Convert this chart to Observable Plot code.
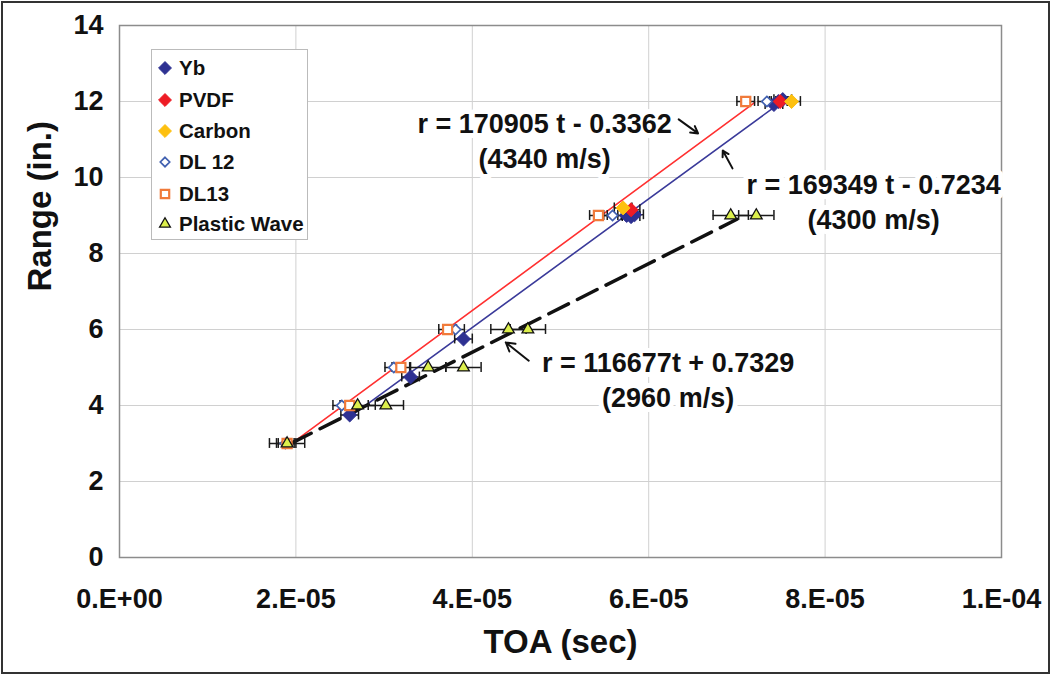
<!DOCTYPE html>
<html>
<head>
<meta charset="utf-8">
<script src="https://cdn.jsdelivr.net/npm/d3@7"></script>
<script src="https://cdn.jsdelivr.net/npm/@observablehq/plot@0.6"></script>
<style>
  html, body { margin: 0; padding: 0; background: #fff; }
  #wrap { position: relative; width: 1051px; height: 675px; overflow: hidden; font-family: "Liberation Sans", Arial, sans-serif; }
  #border { position: absolute; left: 1px; top: 1px; width: 1045px; height: 669px; border: 2px solid #333; pointer-events: none; }
  #legend { position: absolute; left: 151px; top: 49px; width: 157px; height: 191px; border: 1px solid #bbb; background: #fff; box-sizing: border-box; }
  .item { position: absolute; left: 0; height: 24px; display: flex; align-items: center; font-weight: bold; font-size: 20.5px; color: #111; }
  .item svg { margin-left: 4px; margin-right: 5px; }
</style>
</head>
<body>
<div id="wrap">
  <div id="chart"></div>
  <div id="legend"></div>
  <div id="border"></div>
</div>
<script>
// ---- Data ----
const seriesNames = ["Yb", "PVDF", "Carbon", "DL 12", "DL13", "Plastic Wave"];

const ybT = [2.61e-5, 3.30e-5, 3.90e-5, 5.75e-5, 5.80e-5, 5.84e-5, 7.42e-5, 7.47e-5, 7.52e-5];
const ybR = [3.75, 4.75, 5.75, 9.0, 8.97, 9.02, 11.92, 12.0, 12.05];

const pvdfT = [5.80e-5, 7.49e-5];
const pvdfR = [9.15, 12.0];

const carbonT = [5.71e-5, 7.62e-5];
const carbonR = [9.2, 12.0];

const dl12T = [1.88e-5, 2.52e-5, 3.11e-5, 3.81e-5, 5.59e-5, 7.34e-5];
const dl12R = [3.0, 4.0, 5.0, 6.0, 9.0, 12.0];

const dl13T = [1.90e-5, 2.61e-5, 3.19e-5, 3.72e-5, 5.43e-5, 7.10e-5];
const dl13R = [3.0, 4.0, 5.0, 6.0, 9.0, 12.0];

const plasticT = [1.90e-5, 2.70e-5, 3.02e-5, 3.50e-5, 3.90e-5, 4.41e-5, 4.63e-5, 6.93e-5, 7.22e-5];
const plasticR = [3.0, 4.0, 4.0, 5.0, 5.0, 6.0, 6.0, 9.0, 9.0];

// half-width of horizontal error bars (sec), per series
const errHalf = [1.0e-6, 1.0e-6, 1.0e-6, 1.0e-6, 1.0e-6, 2.0e-6];

// fitted lines (endpoints)
const redFitT = [1.90e-5, 7.20e-5];
const redFitR = [2.91, 11.97];
const blueFitT = [2.60e-5, 7.50e-5];
const blueFitR = [3.68, 11.98];
const plasticFitT = [1.95e-5, 7.00e-5];
const plasticFitR = [3.01, 8.90];

// annotation labels
const noteText = ["r = 170905 t - 0.3362\n(4340 m/s)", "r = 169349 t - 0.7234\n(4300 m/s)", "r = 116677t + 0.7329\n(2960 m/s)"];
const noteT = [4.82e-5, 8.55e-5, 6.22e-5];
const noteR = [11.0, 9.39, 4.71];

// arrows
const arrowT1 = [6.34e-5, 6.95e-5, 4.64e-5];
const arrowR1 = [11.53, 10.24, 5.18];
const arrowT2 = [6.56e-5, 6.84e-5, 4.38e-5];
const arrowR2 = [11.16, 10.71, 5.66];

// ticks
const xTicks = [0, 2e-5, 4e-5, 6e-5, 8e-5, 1e-4];
const xTickLabels = ["0.E+00", "2.E-05", "4.E-05", "6.E-05", "8.E-05", "1.E-04"];
const yTicks = [0, 2, 4, 6, 8, 10, 12, 14];

// ---- Build tables ----
const toRows = (T, R, e) => T.map((t, i) => ({t, r: R[i], e}));
const yb = toRows(ybT, ybR, errHalf[0]);
const pvdf = toRows(pvdfT, pvdfR, errHalf[1]);
const carbon = toRows(carbonT, carbonR, errHalf[2]);
const dl12 = toRows(dl12T, dl12R, errHalf[3]);
const dl13 = toRows(dl13T, dl13R, errHalf[4]);
const plastic = toRows(plasticT, plasticR, errHalf[5]);
const notes = noteText.map((s, i) => ({s, t: noteT[i], r: noteR[i]}));
const arrows = arrowT1.map((t, i) => ({t1: t, r1: arrowR1[i], t2: arrowT2[i], r2: arrowR2[i]}));
const fitRows = (T, R) => T.map((t, i) => ({t, r: R[i]}));

const styles = {
  "Yb": {symbol: "diamond2", fill: "#2e3192", stroke: "#2e3192", r: 6.3, strokeWidth: 1},
  "PVDF": {symbol: "diamond2", fill: "#ee1c25", stroke: "#ee1c25", r: 6.3, strokeWidth: 1},
  "Carbon": {symbol: "diamond2", fill: "#fdc010", stroke: "#fdc010", r: 6.3, strokeWidth: 1},
  "DL 12": {symbol: "diamond2", fill: "#fff", stroke: "#4060b0", r: 4.6, strokeWidth: 1.7},
  "DL13": {symbol: "square2", fill: "#fff", stroke: "#f07a3a", r: 5.8, strokeWidth: 2.2},
  "Plastic Wave": {symbol: "triangle2", fill: "#dcef4c", stroke: "#111", r: 5.6, strokeWidth: 1.3}
};

function errorMarks(rows) {
  const cap = 0.13;
  return [
    Plot.ruleY(rows, {y: "r", x1: d => d.t - d.e, x2: d => d.t + d.e, stroke: "#1a1a1a", strokeWidth: 1.5}),
    Plot.ruleX(rows, {x: d => d.t - d.e, y1: d => d.r - cap, y2: d => d.r + cap, stroke: "#1a1a1a", strokeWidth: 1.5}),
    Plot.ruleX(rows, {x: d => d.t + d.e, y1: d => d.r - cap, y2: d => d.r + cap, stroke: "#1a1a1a", strokeWidth: 1.5})
  ];
}
const dotMark = (rows, name) => Plot.dot(rows, {x: "t", y: "r", ...styles[name]});

const font = "Liberation Sans, Arial, sans-serif";

const chart = Plot.plot({
  width: 1051,
  height: 675,
  marginLeft: 119,
  marginRight: 50,
  marginTop: 25,
  marginBottom: 118,
  style: {fontFamily: font, background: "#fff", overflow: "visible"},
  x: {domain: [0, 1e-4]},
  y: {domain: [0, 14]},
  marks: [
    Plot.gridX(xTicks, {stroke: "#d0d0d0", strokeOpacity: 1, strokeWidth: 1}),
    Plot.gridY(yTicks, {stroke: "#d0d0d0", strokeOpacity: 1, strokeWidth: 1}),
    Plot.frame({stroke: "#8c8c8c", strokeWidth: 1.5}),
    Plot.axisX({ticks: xTicks, tickFormat: (d, i) => xTickLabels[i], tickSize: 0, tickPadding: 31, fontSize: 27, fontWeight: "bold", fill: "#111", label: null}),
    Plot.axisY({ticks: yTicks, tickSize: 0, tickPadding: 16, fontSize: 27, fontWeight: "bold", fill: "#111", label: null}),
    Plot.text(["TOA (sec)"], {frameAnchor: "bottom", dy: 95, fontSize: 33, fontWeight: "bold", fill: "#111"}),
    Plot.text(["Range (in.)"], {frameAnchor: "left", dx: -79, rotate: -90, fontSize: 33, fontWeight: "bold", fill: "#111"}),
    // fitted lines
    Plot.line(fitRows(redFitT, redFitR), {x: "t", y: "r", stroke: "#ff3030", strokeWidth: 1.6}),
    Plot.line(fitRows(blueFitT, blueFitR), {x: "t", y: "r", stroke: "#3a3a9a", strokeWidth: 1.6}),
    Plot.line(fitRows(plasticFitT, plasticFitR), {x: "t", y: "r", stroke: "#111", strokeWidth: 3.5, strokeDasharray: "22,10"}),
    // error bars
    ...errorMarks(yb), ...errorMarks(pvdf), ...errorMarks(carbon),
    ...errorMarks(dl12), ...errorMarks(dl13), ...errorMarks(plastic),
    // markers
    dotMark(yb, "Yb"), dotMark(pvdf, "PVDF"), dotMark(carbon, "Carbon"),
    dotMark(dl12, "DL 12"), dotMark(dl13, "DL13"), dotMark(plastic, "Plastic Wave"),
    // annotations
    Plot.text(notes, {x: "t", y: "r", text: "s", fontSize: 27, fontWeight: "bold", fill: "#111", stroke: "#fff", strokeWidth: 10, lineHeight: 1.3}),
    Plot.arrow(arrows, {x1: "t1", y1: "r1", x2: "t2", y2: "r2", stroke: "#111", strokeWidth: 2, headLength: 11})
  ]
});
document.getElementById("chart").appendChild(chart);

// ---- Legend ----
const legend = document.getElementById("legend");
const legendTop = [6, 38, 69, 100, 132, 162];
const symbolTypes = {diamond2: d3.symbolDiamond2, square2: d3.symbolSquare2, triangle2: d3.symbolTriangle2};
seriesNames.forEach((name, i) => {
  const s = styles[name];
  const sym = d3.symbol(symbolTypes[s.symbol], Math.PI * s.r * s.r * 0.85)();
  const div = document.createElement("div");
  div.className = "item";
  div.style.top = legendTop[i] + "px";
  div.innerHTML = `<svg width="18" height="18" viewBox="-9 -9 18 18"><path d="${sym}" fill="${s.fill}" stroke="${s.stroke}" stroke-width="${s.strokeWidth}"/></svg><span>${name}</span>`;
  legend.appendChild(div);
});
</script>
</body>
</html>
